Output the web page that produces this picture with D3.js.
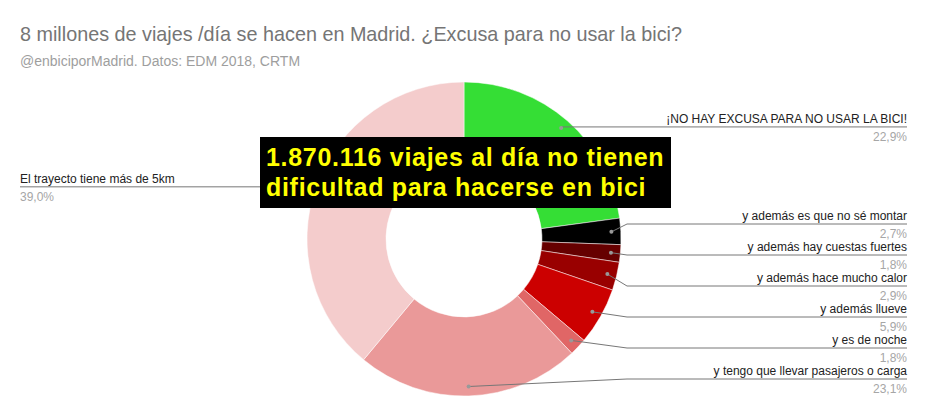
<!DOCTYPE html>
<html>
<head>
<meta charset="utf-8">
<script src="https://cdn.jsdelivr.net/npm/d3@7"></script>
<style>
  body { margin: 0; background: #fff; }
  svg { display: block; font-family: "Liberation Sans", Arial, sans-serif; }
</style>
</head>
<body>
<div class="view"></div>
<script>
var width = 929;
var height = 416;

// data
var categories = [
    "¡NO HAY EXCUSA PARA NO USAR LA BICI!",
    "y además es que no sé montar",
    "y además hay cuestas fuertes",
    "y además hace mucho calor",
    "y además llueve",
    "y es de noche",
    "y tengo que llevar pasajeros o carga",
    "El trayecto tiene más de 5km"
];
var values = [22.9, 2.7, 1.8, 2.9, 5.9, 1.8, 23.1, 39.0];
var sliceColors = ["#35de35", "#000000", "#660000", "#990000", "#cc0000", "#e06666", "#ea9999", "#f4cccc"];
var pctLabels = ["22,9%", "2,7%", "1,8%", "2,9%", "5,9%", "1,8%", "23,1%", "39,0%"];

var title = "8 millones de viajes /día se hacen en Madrid. ¿Excusa para no usar la bici?";
var subtitle = "@enbiciporMadrid. Datos: EDM 2018, CRTM";
var callout = ["1.870.116 viajes al día no tienen", "dificultad para hacerse en bici"];

var cx = 464, cy = 239;
var outerR = 157, innerR = 78;

var svg = d3.select(".view")
    .append("svg")
    .attr("width", width)
    .attr("height", height);

svg.append("text")
    .attr("x", 20)
    .attr("y", 41)
    .attr("fill", "#757575")
    .attr("font-size", 19.8)
    .text(title);

svg.append("text")
    .attr("x", 20)
    .attr("y", 66)
    .attr("fill", "#9e9e9e")
    .attr("font-size", 14)
    .text(subtitle);

var pie = d3.pie().sort(null).value(function (d) { return d; });
var arcs = pie(values);

var arc = d3.arc().innerRadius(innerR).outerRadius(outerR);
var dotArc = d3.arc().innerRadius(outerR * 0.94).outerRadius(outerR * 0.94);

var g = svg.append("g")
    .attr("transform", "translate(" + cx + "," + cy + ")");

g.selectAll("path")
    .data(arcs)
    .enter().append("path")
    .attr("d", arc)
    .attr("fill", function (d, i) { return sliceColors[i]; })
    .attr("stroke", "#fff")
    .attr("stroke-width", 0.5);

// label layout: right side labels stacked, left side single label
var rightX = 907, elbowX = 627, step = 31, firstSmallY = 224;
var leftX = 20;

var labels = arcs.map(function (d, i) {
    var p = dotArc.centroid(d);
    var px = cx + p[0], py = cy + p[1];
    var right = p[0] > 0;
    var ly;
    if (!right) ly = py - 2;
    else if (i == 0) ly = py - 1;
    else ly = firstSmallY + (i - 1) * step;
    return { i: i, px: px, py: py, right: right, ly: ly };
});

var lg = svg.append("g");

lg.selectAll("path")
    .data(labels)
    .enter().append("path")
    .attr("fill", "none")
    .attr("stroke", "#777")
    .attr("stroke-width", 1)
    .attr("d", function (d) {
        if (!d.right) return "M" + d.px + "," + d.ly + "H" + leftX;
        if (d.i == 0) return "M" + d.px + "," + d.ly + "H" + rightX;
        return "M" + d.px + "," + d.py + "L" + elbowX + "," + d.ly + "H" + rightX;
    });

lg.selectAll("circle")
    .data(labels)
    .enter().append("circle")
    .attr("cx", function (d) { return d.px; })
    .attr("cy", function (d) { return d.py; })
    .attr("r", 2)
    .attr("fill", "#999");

lg.selectAll("text.name")
    .data(labels)
    .enter().append("text")
    .attr("class", "name")
    .attr("x", function (d) { return d.right ? rightX : leftX; })
    .attr("y", function (d) { return d.ly - 4; })
    .attr("text-anchor", function (d) { return d.right ? "end" : "start"; })
    .attr("font-size", 12)
    .attr("fill", "#222")
    .text(function (d) { return categories[d.i]; });

lg.selectAll("text.pct")
    .data(labels)
    .enter().append("text")
    .attr("class", "pct")
    .attr("x", function (d) { return d.right ? rightX : leftX; })
    .attr("y", function (d) { return d.ly + 14; })
    .attr("text-anchor", function (d) { return d.right ? "end" : "start"; })
    .attr("font-size", 12)
    .attr("fill", "#a6a6a6")
    .text(function (d) { return pctLabels[d.i]; });

// callout box
var box = svg.append("g");
box.append("rect")
    .attr("x", 260)
    .attr("y", 137)
    .attr("width", 411)
    .attr("height", 71)
    .attr("fill", "#000");

box.selectAll("text")
    .data(callout)
    .enter().append("text")
    .attr("x", 266)
    .attr("y", function (d, i) { return 166 + i * 30; })
    .attr("fill", "#ffff00")
    .attr("font-size", 25)
    .attr("font-weight", "bold")
    .attr("letter-spacing", 0.7)
    .text(function (d) { return d; });
</script>
</body>
</html>
